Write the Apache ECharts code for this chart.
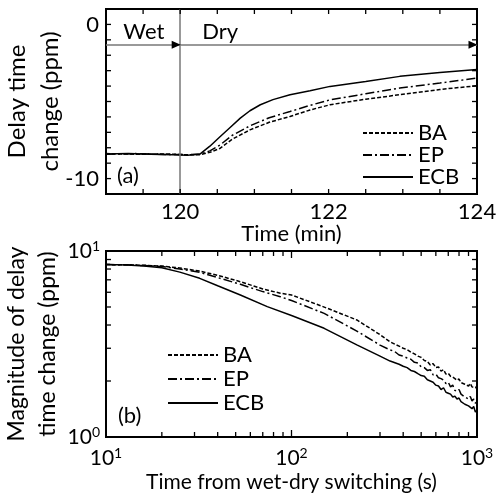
<!DOCTYPE html>
<html>
<head>
<meta charset="utf-8">
<script src="https://cdn.jsdelivr.net/npm/echarts@6/dist/echarts.min.js"></script>
<style>
  html, body { margin: 0; padding: 0; background: #fff; }
  #chart { width: 496px; height: 493px; }
</style>
</head>
<body>
<div id="chart"></div>
<script>
// (a) delay time change vs time in minutes
var topBA = [[119,-8.38],[119.4,-8.42],[119.8,-8.4],[120.1,-8.46],[120.27,-8.45],[120.4,-8.3],[120.54,-8.03],[120.7,-7.45],[120.94,-6.84],[121.2,-6.35],[121.48,-5.97],[121.75,-5.55],[122.02,-5.21],[122.5,-4.85],[122.96,-4.56],[123.5,-4.22],[124,-3.98]];
var topEP = [[119,-8.42],[119.4,-8.38],[119.8,-8.43],[120.1,-8.45],[120.27,-8.42],[120.4,-8.2],[120.54,-7.81],[120.7,-7.2],[120.94,-6.58],[121.2,-6.05],[121.48,-5.65],[121.75,-5.25],[122.02,-4.89],[122.5,-4.5],[122.96,-4.13],[123.5,-3.8],[124,-3.48]];
var topECB = [[119,-8.4],[119.3,-8.38],[119.6,-8.42],[119.9,-8.45],[120.1,-8.48],[120.27,-8.4],[120.4,-7.9],[120.54,-7.27],[120.68,-6.65],[120.81,-6.08],[120.94,-5.6],[121.08,-5.21],[121.25,-4.88],[121.48,-4.56],[121.75,-4.3],[122.02,-4.02],[122.5,-3.7],[122.96,-3.37],[123.5,-3.12],[124,-2.92]];

// (b) magnitude vs time from switching (s)
var botBA = [[10,8.45],[13,8.44],[16,8.38],[20,8.3],[25,8.1],[32,7.8],[40,7.4],[53,6.84],[70,6.25],[87,5.93],[100,5.8],[149,5.01],[225,4.26],[300,3.55],[340,3.25],[360,3.16],[380,3.08],[400,3.0],[420,2.95],[440,2.86],[460,2.8],[480,2.72],[500,2.68],[520,2.58],[540,2.55],[560,2.44],[580,2.48],[600,2.36],[620,2.38],[640,2.26],[660,2.3],[680,2.18],[700,2.2],[720,2.12],[740,2.1],[760,2.06],[780,2.02],[800,2.05],[820,1.96],[840,2.0],[860,1.92],[880,1.96],[900,1.88],[920,1.94],[940,1.86],[960,1.9],[980,1.84],[1000,1.88]];
var botEP = [[10,8.45],[13,8.43],[16,8.35],[20,8.25],[25,8.0],[32,7.68],[40,7.2],[53,6.62],[70,6.05],[87,5.68],[100,5.42],[150,4.62],[225,3.71],[300,3.12],[340,2.94],[360,2.88],[380,2.76],[400,2.72],[420,2.66],[440,2.62],[460,2.52],[480,2.5],[500,2.38],[520,2.36],[540,2.28],[560,2.3],[580,2.16],[600,2.18],[620,2.08],[640,2.06],[660,2.02],[680,1.94],[700,1.97],[720,1.86],[740,1.9],[760,1.78],[780,1.76],[800,1.8],[820,1.7],[840,1.74],[860,1.64],[880,1.68],[900,1.6],[920,1.65],[940,1.56],[960,1.6],[980,1.52],[1000,1.55]];
var botECB = [[10,8.45],[13,8.42],[16,8.3],[20,8.12],[25,7.7],[32,7.13],[40,6.5],[53,5.8],[74,5.02],[100,4.5],[150,3.84],[225,3.13],[300,2.72],[340,2.56],[380,2.46],[400,2.4],[420,2.36],[440,2.28],[460,2.25],[480,2.19],[500,2.14],[520,2.12],[540,2.03],[560,2.0],[580,1.97],[600,1.9],[620,1.88],[640,1.8],[660,1.84],[680,1.74],[700,1.72],[720,1.7],[740,1.64],[760,1.66],[780,1.6],[800,1.62],[820,1.55],[840,1.57],[860,1.5],[880,1.53],[900,1.47],[920,1.5],[940,1.42],[960,1.46],[980,1.36],[1000,1.4]];

var topXLabels = [120, 122, 124];
var topYLabels = [0, -10];
var topXTicks = [119.5,120,120.5,121,121.5,122,122.5,123,123.5];
var topYTicks = [-10,-9,-8,-7,-6,-5,-4,-3,-2,-1,0];
var botXMinor = [20,30,40,50,60,70,80,90,200,300,400,500,600,700,800,900];
var botXMajor = [100];
var botYMinor = [2,3,4,5,6,7,8,9];

var FONT = 'Lato';
var black = '#000';

var dashBA = [4, 2];
var dashEP = [9, 3, 2, 3];

var TOP_H = 185, BOT_H = 186;
var TICK = 5, TICK_MAJ = 7;

function lineSeries(name, data, dash, xi, yi) {
  return {
    name: name, type: 'line', data: data, xAxisIndex: xi, yAxisIndex: yi,
    showSymbol: false, symbol: 'none', animation: false,
    lineStyle: { color: black, width: 1.5, type: dash || 'solid' },
    itemStyle: { color: black }
  };
}

function powLabel(v) {
  var e = Math.round(Math.log10(v));
  return '{b|10}{s|' + e + '}';
}
var powRich = {
  b: { fontSize: 21, fontFamily: FONT, color: black, lineHeight: 24 },
  s: { fontSize: 14, fontFamily: FONT, color: black, verticalAlign: 'top', lineHeight: 24 }
};

var panelLabels = [
  { type: 'text', left: 117, top: 165, z: 100, style: { text: '(a)', fontSize: 22, fontFamily: FONT, fill: black } },
  { type: 'text', left: 118, top: 405, z: 100, style: { text: '(b)', fontSize: 22, fontFamily: FONT, fill: black } }
];

var myChart = echarts.init(document.getElementById('chart'));
var option = {
  animation: false,
  backgroundColor: '#fff',
  textStyle: { fontFamily: FONT, color: black },
  grid: [
    { left: 106, right: 19, top: 9, height: TOP_H, show: true, borderColor: black, borderWidth: 2, outerBoundsMode: 'none', containLabel: false },
    { left: 106, right: 19, top: 251, height: BOT_H, show: true, borderColor: black, borderWidth: 2, outerBoundsMode: 'none', containLabel: false }
  ],
  legend: [
    {
      data: ['BA', 'EP', 'ECB'], orient: 'vertical', left: 362, top: 122, padding: 0,
      itemWidth: 50, itemHeight: 12, itemGap: 0, selectedMode: false,
      itemStyle: { opacity: 0 },
      textStyle: { fontSize: 22, fontFamily: FONT, color: black, lineHeight: 20 }
    },
    {
      data: ['BA', 'EP', 'ECB'], orient: 'vertical', left: 167, top: 344, padding: 0,
      itemWidth: 50, itemHeight: 12, itemGap: 2, selectedMode: false,
      itemStyle: { opacity: 0 },
      textStyle: { fontSize: 22, fontFamily: FONT, color: black, lineHeight: 20 }
    }
  ],
  xAxis: [
    {
      type: 'value', gridIndex: 0, min: 119, max: 124, interval: 0.5,
      axisLine: { show: false, onZero: false }, axisTick: { show: false }, splitLine: { show: false },
      axisLabel: {
        fontSize: 22, color: black, fontFamily: FONT, margin: 7,
        formatter: function (v) { return topXLabels.indexOf(v) >= 0 ? String(v) : ''; }
      },
      name: 'Time (min)', nameLocation: 'middle', nameGap: 29, nameMoveOverlap: false,
      nameTextStyle: { fontSize: 22, fontFamily: FONT, color: black }
    },
    {
      type: 'log', gridIndex: 1, min: 10, max: 1000, logBase: 10,
      axisLine: { show: false, onZero: false }, axisTick: { show: false }, splitLine: { show: false },
      axisLabel: { formatter: powLabel, rich: powRich, margin: 9 },
      name: 'Time from wet-dry switching (s)', nameLocation: 'middle', nameGap: 35, nameMoveOverlap: false,
      nameTextStyle: { fontSize: 21, fontFamily: FONT, color: black }
    }
  ],
  yAxis: [
    {
      type: 'value', gridIndex: 0, min: -11, max: 1, interval: 1,
      axisLine: { show: false, onZero: false }, axisTick: { show: false }, splitLine: { show: false },
      axisLabel: {
        fontSize: 22, color: black, fontFamily: FONT, margin: 7,
        formatter: function (v) { return topYLabels.indexOf(v) >= 0 ? String(v) : ''; }
      },
      name: 'Delay time\nchange (ppm)', nameLocation: 'middle', nameGap: 39, nameMoveOverlap: false,
      nameTextStyle: { fontSize: 24, fontFamily: FONT, color: black, lineHeight: 33 }
    },
    {
      type: 'log', gridIndex: 1, min: 1, max: 10, logBase: 10,
      axisLine: { show: false, onZero: false }, axisTick: { show: false }, splitLine: { show: false },
      axisLabel: { formatter: powLabel, rich: powRich, margin: 6 },
      name: 'Magnitude of delay\ntime change (ppm)', nameLocation: 'middle', nameGap: 43, nameMoveOverlap: false,
      nameTextStyle: { fontSize: 23, fontFamily: FONT, color: black, lineHeight: 31 }
    }
  ],
  series: [
    lineSeries('BA', topBA, dashBA, 0, 0),
    lineSeries('EP', topEP, dashEP, 0, 0),
    lineSeries('ECB', topECB, 'solid', 0, 0),
    lineSeries('BA', botBA, dashBA, 1, 1),
    lineSeries('EP', botEP, dashEP, 1, 1),
    lineSeries('ECB', botECB, 'solid', 1, 1),
    {
      // wet / dry annotation
      name: 'annot', type: 'line', data: [], xAxisIndex: 0, yAxisIndex: 0,
      markLine: {
        silent: true, symbol: ['none', 'none'], animation: false,
        lineStyle: { color: '#777', width: 1.5, type: 'solid' },
        label: { show: false },
        data: [
          [{ coord: [120, 1] }, { coord: [120, -11] }],
          [{ coord: [119, -1.32] }, { coord: [120, -1.32] }],
          [{ coord: [120, -1.32] }, { coord: [124, -1.32] }]
        ]
      },
      markPoint: {
        silent: true, animation: false,
        data: [
          { coord: [120, -1.32], symbol: 'triangle', symbolSize: [8, 9], symbolRotate: -90, symbolOffset: [-4, 0], itemStyle: { color: black }, label: { show: false } },
          { coord: [124, -1.32], symbol: 'triangle', symbolSize: [8, 9], symbolRotate: -90, symbolOffset: [-4, 0], itemStyle: { color: black }, label: { show: false } },
          { coord: [119.51, -0.5], symbol: 'circle', symbolSize: 1, itemStyle: { color: 'rgba(0,0,0,0)' },
            label: { show: true, position: 'inside', formatter: 'Wet', fontSize: 22, fontFamily: FONT, color: black } },
          { coord: [120.54, -0.5], symbol: 'circle', symbolSize: 1, itemStyle: { color: 'rgba(0,0,0,0)' },
            label: { show: true, position: 'inside', formatter: 'Dry', fontSize: 22, fontFamily: FONT, color: black } }
        ]
      }
    }
  ],
  graphic: panelLabels
};
myChart.setOption(option);

// inward frame ticks, placed with the chart's own axis scales
function px(gi, x, y) { return myChart.convertToPixel({ gridIndex: gi }, [x, y]); }
function tickLine(p, dx, dy) {
  return {
    type: 'line', z: 100, silent: true,
    shape: { x1: p[0], y1: p[1], x2: p[0] + dx, y2: p[1] + dy },
    style: { stroke: black, lineWidth: 1.3 }
  };
}
var tickEls = [];
topXTicks.forEach(function (v) {
  tickEls.push(tickLine(px(0, v, -11), 0, -TICK));
  tickEls.push(tickLine(px(0, v, 1), 0, TICK));
});
topYTicks.forEach(function (v) {
  tickEls.push(tickLine(px(0, 119, v), TICK, 0));
  tickEls.push(tickLine(px(0, 124, v), -TICK, 0));
});
botXMinor.forEach(function (v) {
  tickEls.push(tickLine(px(1, v, 1), 0, -TICK));
  tickEls.push(tickLine(px(1, v, 10), 0, TICK));
});
botXMajor.forEach(function (v) {
  tickEls.push(tickLine(px(1, v, 1), 0, -TICK_MAJ));
  tickEls.push(tickLine(px(1, v, 10), 0, TICK_MAJ));
});
botYMinor.forEach(function (v) {
  tickEls.push(tickLine(px(1, 10, v), TICK, 0));
  tickEls.push(tickLine(px(1, 1000, v), -TICK, 0));
});
myChart.setOption({ graphic: panelLabels.concat(tickEls) });
</script>
</body>
</html>
